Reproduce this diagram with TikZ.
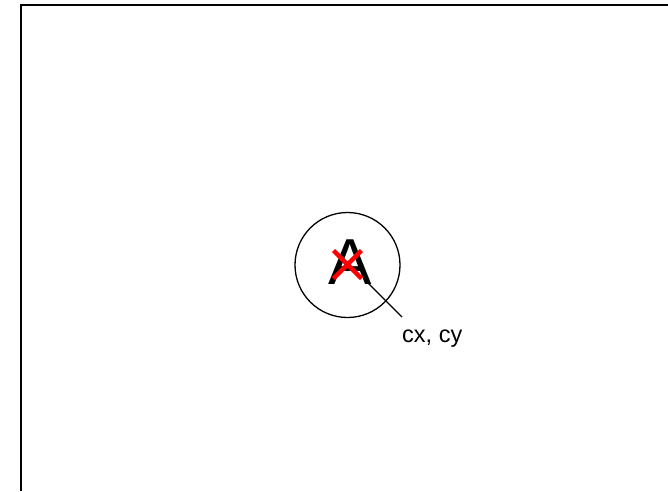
\documentclass[tikz,border=0pt]{standalone}
\usepackage{fontspec}
\setmainfont{Liberation Sans}
\begin{document}
\begin{tikzpicture}[x=1pt,y=1pt,
  frame/.style={draw=black,line width=2pt},
  ring/.style={circle,draw=black,line width=1.3pt,minimum size=105pt,inner sep=0pt},
  crossmark/.style={draw=red,line width=4.5pt},
  lead/.style={draw=black,line width=1.3pt}]
\useasboundingbox (0,0) rectangle (668,-491);
\coordinate (fbl) at (20.5,-491);
\coordinate (ftl) at (20.5,-4.5);
\coordinate (ftr) at (668,-4.5);
\draw[frame] (fbl) -- (ftl) -- (ftr);
\node[ring] (c) at (347.5,-265) {};
\node[font=\fontsize{65}{65}\selectfont,inner sep=0pt] (A) at (350,-262.5) {A};
\coordinate (x) at (347.5,-264.5);
\draw[crossmark] ([shift={(-14,14)}]x) -- ([shift={(14,-14)}]x)
                 ([shift={(-14,-14)}]x) -- ([shift={(14,14)}]x);
\coordinate (ls) at (368,-283);
\coordinate (le) at (402,-317);
\draw[lead] (ls) -- (le);
\node[font=\fontsize{23.5}{23.5}\selectfont,inner sep=0pt,anchor=base west] (lbl) at (402,-342) {cx, cy};
\end{tikzpicture}
\end{document}
